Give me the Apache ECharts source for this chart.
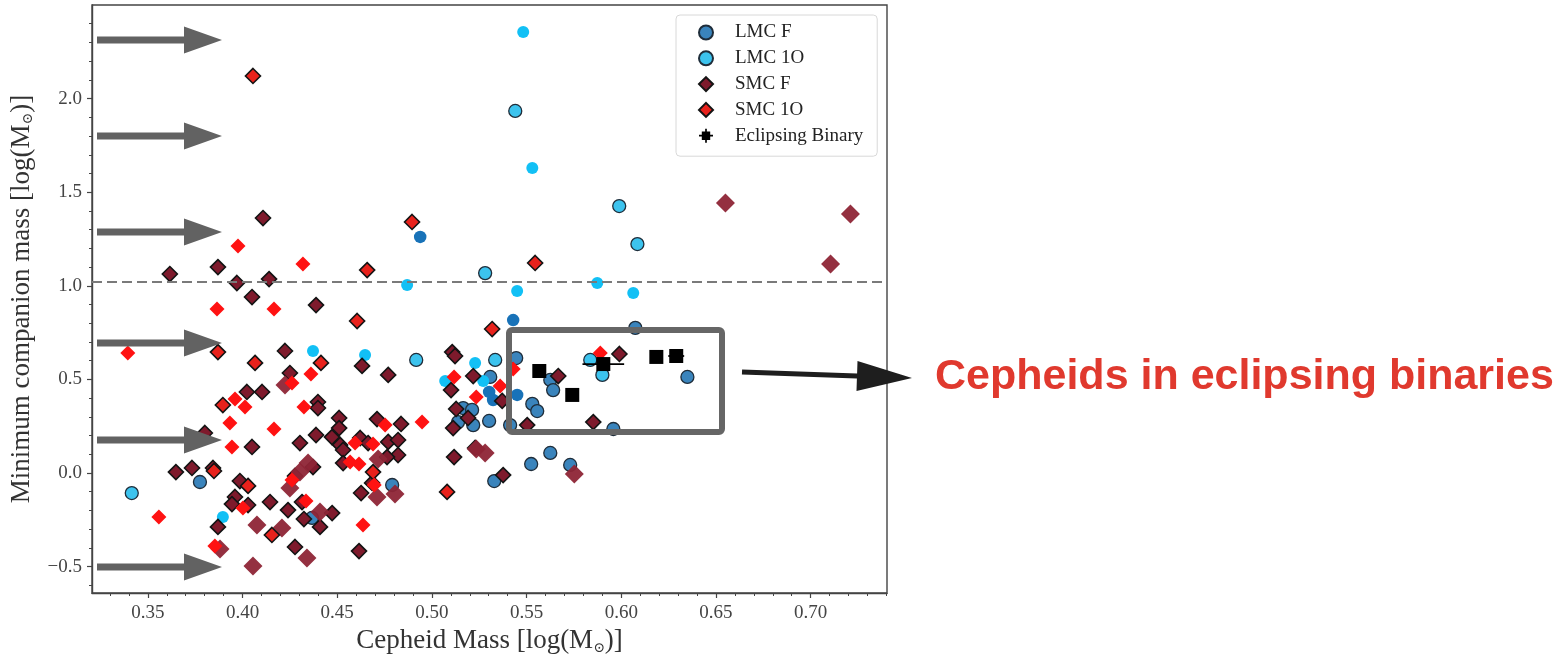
<!DOCTYPE html>
<html><head><meta charset="utf-8">
<script src="https://cdn.jsdelivr.net/npm/echarts@6/dist/echarts.min.js"></script>
<style>html,body{margin:0;padding:0;background:#fff;}#c{width:1563px;height:656px;}</style>
</head><body><div id="c"></div>
<script>
// ---------- data (log masses) ----------
const xTicks = [0.35, 0.40, 0.45, 0.50, 0.55, 0.60, 0.65, 0.70];
const yTicks = [-0.5, 0.0, 0.5, 1.0, 1.5, 2.0];
const thresholdY = [1.02];
const seriesNames = ['LMC F', 'LMC 1O', 'SMC F', 'SMC 1O', 'Eclipsing Binary'];

const lmcF = [[0.3775,-0.048],[0.479,-0.064],[0.4367,-0.240],[0.6074,0.775],[0.5445,0.614],[0.5308,0.513],
  [0.553,0.369],[0.5556,0.331],[0.5165,0.347],[0.5212,0.337],[0.5138,0.272],[0.5218,0.256],[0.5302,0.278],
  [0.5413,0.256],[0.5625,0.107],[0.5524,0.048],[0.5329,-0.043],[0.5625,0.497],[0.564,0.443],[0.5958,0.235],
  [0.573,0.043],[0.6349,0.513]];
const lmcFsolid = [[0.4938,1.261],[0.5429,0.817],[0.5323,0.390],[0.545,0.417],[0.5302,0.433]];

const lmc1O = [[0.544,1.934],[0.5989,1.426],[0.6085,1.223],[0.5281,1.068],[0.4917,0.604],[0.5334,0.604],
  [0.5836,0.604],[0.59,0.524],[0.3415,-0.107]];
const lmc1Osolid = [[0.5482,2.356],[0.553,1.629],[0.4869,1.004],[0.545,0.972],[0.5873,1.015],[0.6063,0.962],
  [0.4372,0.652],[0.4647,0.630],[0.507,0.491],[0.5228,0.588],[0.5271,0.491],[0.3896,-0.235]];

const smcF = [[0.4108,1.362],[0.3616,1.063],[0.387,1.100],[0.397,1.015],[0.414,1.036],[0.405,0.940],
  [0.4388,0.897],[0.4224,0.652],[0.425,0.534],[0.4023,0.433],[0.4103,0.433],[0.4398,0.379],[0.4398,0.347],
  [0.405,0.139],[0.4303,0.160],[0.4388,0.203],[0.4472,0.192],[0.3801,0.214],[0.3648,0.005],[0.3733,0.027],
  [0.3844,0.027],[0.3986,-0.043],[0.396,-0.128],[0.3944,-0.166],[0.4029,-0.171],[0.4145,-0.155],[0.424,-0.198],
  [0.4314,-0.155],[0.4324,-0.246],[0.4473,-0.214],[0.4409,-0.288],[0.387,-0.288],[0.4277,-0.395],[0.4372,0.032],
  [0.4277,-0.016],[0.451,0.294],[0.451,0.240],[0.4515,0.150],[0.4531,0.123],[0.4531,0.053],[0.4621,0.187],
  [0.4663,0.160],[0.471,0.288],[0.4837,0.262],[0.4769,0.166],[0.4821,0.176],[0.4821,0.096],[0.4763,0.085],
  [0.4684,-0.053],[0.4626,-0.107],[0.4615,-0.417],[0.4631,0.572],[0.4769,0.524],[0.5107,0.646],[0.5122,0.625],
  [0.5101,0.443],[0.5128,0.342],[0.5112,0.240],[0.5117,0.085],[0.5218,0.518],[0.5191,0.294],[0.5228,0.134],
  [0.5376,-0.011],[0.5371,0.385],[0.5503,0.256],[0.5667,0.518],[0.599,0.636],[0.5852,0.272]];
const smcFsolid = [[0.655,1.442],[0.721,1.384],[0.7105,1.116],[0.4224,0.470],[0.4076,-0.278],[0.4208,-0.294],
  [0.3881,-0.406],[0.4055,-0.497],[0.425,-0.080],[0.4346,0.053],[0.4303,0.005],[0.4409,-0.208],[0.434,-0.454],
  [0.4716,0.075],[0.471,-0.128],[0.4805,-0.112],[0.5281,0.107],[0.5234,0.128],[0.5752,-0.005]];

const smc1O = [[0.4055,2.121],[0.4895,1.341],[0.5545,1.122],[0.4658,1.084],[0.4605,0.812],[0.5318,0.769],
  [0.387,0.646],[0.4066,0.588],[0.4414,0.588],[0.3896,0.363],[0.4029,-0.069],[0.3849,0.011],[0.4155,-0.331],
  [0.508,-0.101],[0.4689,0.005]];
const smc1Osolid = [[0.3394,0.641],[0.3976,1.213],[0.3865,0.876],[0.4166,0.876],[0.4319,1.116],[0.4261,0.481],
  [0.4361,0.529],[0.396,0.395],[0.4013,0.353],[0.3933,0.267],[0.4166,0.235],[0.3944,0.139],[0.4324,0.353],
  [0.4002,-0.187],[0.3558,-0.235],[0.3854,-0.390],[0.4335,-0.150],[0.4261,-0.037],[0.4568,0.059],[0.4615,0.048],
  [0.4594,0.160],[0.4689,0.155],[0.4753,0.256],[0.4948,0.272],[0.4695,-0.064],[0.4636,-0.278],[0.5117,0.513],
  [0.5234,0.406],[0.536,0.465],[0.5429,0.556],[0.5889,0.641]];

const ebX = [0.5567, 0.5741, 0.5905, 0.6185, 0.629];
const ebY = [0.545, 0.417, 0.582, 0.620, 0.625];
const ebXerr = [0.0025, 0.0025, 0.011, 0.0025, 0.0042];
const ebYerr = [0.01, 0.01, 0.01, 0.01, 0.01];

// ---------- chart ----------
const serif = '"Liberation Serif","DejaVu Serif",serif';
const xMin = 0.3205, xMax = 0.7403, yMin = -0.641, yMax = 2.5;
const range = (a, b, s) => { const r = []; for (let v = a; v <= b + 1e-9; v += s) r.push(+v.toFixed(3)); return r; };
const xMinor = range(0.33, 0.74, 0.01).filter(v => Math.abs(v * 20 - Math.round(v * 20)) > 1e-6);
const yMinor = range(-0.6, 2.4, 0.1).filter(v => Math.abs(v * 2 - Math.round(v * 2)) > 1e-6);
const fmt = v => v.toFixed(2);
const fmtY = v => (v < 0 ? '\u2212' : '') + Math.abs(v).toFixed(1);

const chart = echarts.init(document.getElementById('c'), null, {renderer: 'canvas'});
const edgeCircle = {borderColor: '#1f2d3a', borderWidth: 1.3, opacity: 1};
const edgeDiamond = {borderColor: '#141414', borderWidth: 1.6, opacity: 1};
const ebPairs = ebX.map((x, i) => [x, ebY[i]]);
const ebIcon = 'path://M2,2H4.4V0H5.6V2H8V4.4H10V5.6H8V8H5.6V10H4.4V8H2V5.6H0V4.4H2Z';
const nameRich = {s: {fontFamily: '"DejaVu Serif"', fontSize: 14, color: '#333', verticalAlign: 'bottom'}};

const option = {
  animation: false,
  grid: {left: 92, top: 5, right: 1563 - 887, bottom: 656 - 593, containLabel: false, outerBoundsMode: 'none',
    show: true, borderColor: '#444', borderWidth: 1.4, backgroundColor: 'transparent'},
  xAxis: [{
    type: 'value', min: xMin, max: xMax, position: 'bottom',
    name: 'Cepheid Mass [log(M{s|\u2299})]', nameLocation: 'middle', nameGap: 30,
    nameTextStyle: {fontFamily: serif, fontSize: 27, color: '#333', rich: nameRich},
    axisLine: {show: true, onZero: false, lineStyle: {color: '#444', width: 1.4}},
    axisTick: {show: true, inside: false, length: 5, customValues: xTicks, lineStyle: {color: '#444', width: 1.2}},
    axisLabel: {customValues: xTicks, formatter: fmt, fontFamily: serif, fontSize: 19, color: '#444', margin: 11},
    splitLine: {show: false}
  }, {
    type: 'value', min: xMin, max: xMax, position: 'bottom',
    axisLine: {show: false, onZero: false}, axisLabel: {show: false}, splitLine: {show: false},
    axisTick: {show: true, length: 3, customValues: xMinor, lineStyle: {color: '#444', width: 1}}
  }],
  yAxis: [{
    type: 'value', min: yMin, max: yMax, position: 'left',
    name: 'Minimum companion mass [log(M{s|\u2299})]', nameLocation: 'middle', nameGap: 57,
    nameTextStyle: {fontFamily: serif, fontSize: 27, color: '#333', rich: nameRich},
    axisLine: {show: true, onZero: false, lineStyle: {color: '#444', width: 1.4}},
    axisTick: {show: true, length: 5, customValues: yTicks, lineStyle: {color: '#444', width: 1.2}},
    axisLabel: {customValues: yTicks, formatter: fmtY, fontFamily: serif, fontSize: 19, color: '#444', margin: 10, padding: [3, 0, 0, 0]},
    splitLine: {show: false}
  }, {
    type: 'value', min: yMin, max: yMax, position: 'left',
    axisLine: {show: false, onZero: false}, axisLabel: {show: false}, splitLine: {show: false},
    axisTick: {show: true, length: 3, customValues: yMinor, lineStyle: {color: '#444', width: 1}}
  }],
  legend: {
    data: [
      {name: seriesNames[0], icon: 'circle'},
      {name: seriesNames[1], icon: 'circle'},
      {name: seriesNames[2], icon: 'diamond'},
      {name: seriesNames[3], icon: 'diamond'},
      {name: seriesNames[4], icon: ebIcon}
    ],
    orient: 'vertical', left: 676, top: 15,
    padding: [8, 14, 11, 22], itemGap: 6.8, itemWidth: 14, itemHeight: 14,
    backgroundColor: 'rgba(255,255,255,0.85)', borderColor: '#d8d8d8', borderWidth: 1, borderRadius: 4,
    textStyle: {fontFamily: serif, fontSize: 19, color: '#222', padding: [0, 0, 0, 17]}
  },
  series: [
    {name: 'LMC F', type: 'scatter', symbol: 'circle', symbolSize: 13, data: lmcF, z: 2,
     itemStyle: Object.assign({color: '#3a84bc'}, edgeCircle),
     markLine: {silent: true, symbol: 'none', label: {show: false}, animation: false,
       lineStyle: {color: '#7a7a7a', width: 2.2, type: [10, 5]}, data: thresholdY.map(v => ({yAxis: v}))}},
    {name: 'LMC F ', type: 'scatter', symbol: 'circle', symbolSize: 12.5, data: lmcFsolid, z: 2,
     itemStyle: {color: '#1872b8', opacity: 1}},
    {name: 'LMC 1O', type: 'scatter', symbol: 'circle', symbolSize: 13, data: lmc1O, z: 2,
     itemStyle: Object.assign({color: '#3cc3ee'}, edgeCircle)},
    {name: 'LMC 1O ', type: 'scatter', symbol: 'circle', symbolSize: 12, data: lmc1Osolid, z: 2,
     itemStyle: {color: '#12c0f5', opacity: 1}},
    {name: 'SMC F', type: 'scatter', symbol: 'diamond', symbolSize: 15, data: smcF, z: 3,
     itemStyle: Object.assign({color: '#7e1a2c'}, edgeDiamond)},
    {name: 'SMC F ', type: 'scatter', symbol: 'diamond', symbolSize: 19, data: smcFsolid, z: 3,
     itemStyle: {color: '#8e2536', opacity: 0.95}},
    {name: 'SMC 1O', type: 'scatter', symbol: 'diamond', symbolSize: 15, data: smc1O, z: 3,
     itemStyle: Object.assign({color: '#e8221c'}, edgeDiamond)},
    {name: 'SMC 1O ', type: 'scatter', symbol: 'diamond', symbolSize: 15, data: smc1Osolid, z: 3,
     itemStyle: {color: '#ff1212', opacity: 1}},
    {name: 'Eclipsing Binary', type: 'scatter', symbol: 'rect', symbolSize: 14, data: ebPairs, z: 5,
     itemStyle: {color: '#000', opacity: 1}},
    {name: 'eb-err', type: 'custom', z: 4, data: ebPairs.map((p, i) => [p[0], p[1], ebXerr[i], ebYerr[i]]),
     renderItem: function (params, api) {
       const x = api.value(0), y = api.value(1), ex = api.value(2), ey = api.value(3);
       const a = api.coord([x - ex, y]), b = api.coord([x + ex, y]);
       const c = api.coord([x, y - ey]), d = api.coord([x, y + ey]);
       return {type: 'group', children: [
         {type: 'line', shape: {x1: a[0], y1: a[1], x2: b[0], y2: b[1]}, style: {stroke: '#000', lineWidth: 1.8}},
         {type: 'line', shape: {x1: c[0], y1: c[1], x2: d[0], y2: d[1]}, style: {stroke: '#000', lineWidth: 1.8}}
       ]};
     }}
  ],
  graphic: (function () {
    const g = [];
    const arrowYs = [40, 136, 232, 343, 440, 567];
    arrowYs.forEach(y => {
      g.push({type: 'polygon', z: 100, shape: {points: [[97, y - 3.5], [184, y - 3.5], [184, y - 13.5], [222, y], [184, y + 13.5], [184, y + 3.5], [97, y + 3.5]]},
        style: {fill: '#626262'}});
    });
    g.push({type: 'rect', z: 100, shape: {x: 509, y: 330, width: 213, height: 102, r: 3}, style: {fill: 'none', stroke: '#666', lineWidth: 6}});
    g.push({type: 'polygon', z: 100, shape: {points: [[741.9, 374.5], [742.1, 369.5], [857.1, 373.5], [857.5, 361], [912, 378], [856.5, 391], [856.9, 378.5]]},
      style: {fill: '#1e1e1e'}});
    g.push({type: 'text', z: 100, left: 935, top: 356, style: {text: 'Cepheids in eclipsing binaries', fontFamily: '"Liberation Sans",Arial,sans-serif', fontWeight: 'bold', fontSize: 43, fill: '#e0392e'}});
    return g;
  })()
};
chart.setOption(option);
</script></body></html>
